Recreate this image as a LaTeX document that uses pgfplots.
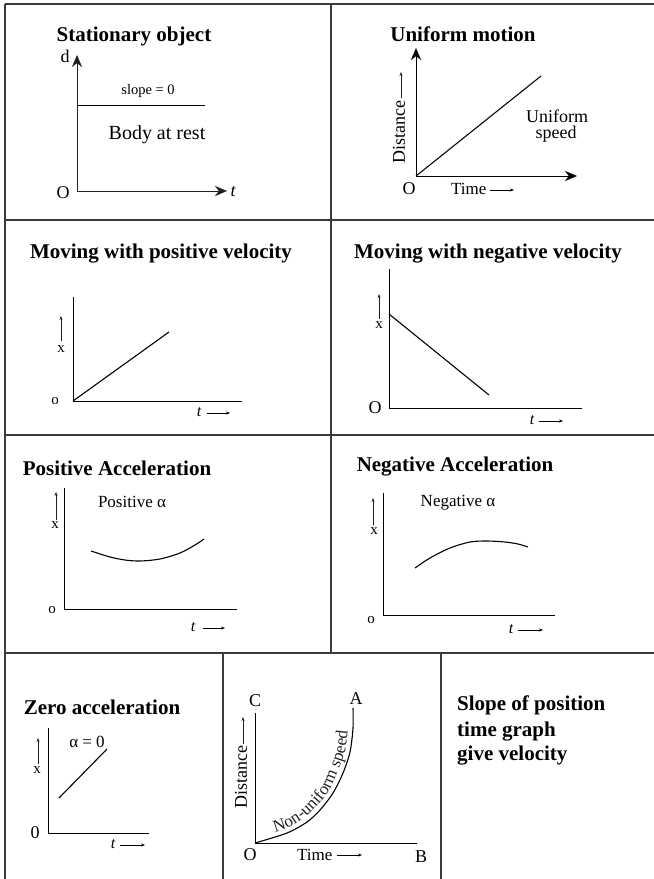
\documentclass[border=0pt]{standalone}
\usepackage{fontspec}
\setmainfont{Liberation Serif}[BoldFont={Liberation Serif Bold},ItalicFont={Liberation Serif Italic}]
\usepackage{pgfplots}
\pgfplotsset{compat=1.18}
\usetikzlibrary{arrows.meta,decorations.text}
\definecolor{ink}{HTML}{231F20}
\definecolor{rule}{HTML}{3A3A3A}
\newcommand{\ttl}[3]{\node[anchor=base,inner sep=0pt,font=\fontsize{21bp}{25bp}\selectfont\bfseries] at (axis cs:#1,#2) {#3};}
\newcommand{\lbl}[4]{\node[anchor=base,inner sep=0pt,font=\fontsize{#1}{#1}\selectfont] at (axis cs:#2,#3) {#4};}
\begin{document}
\begin{tikzpicture}
\begin{axis}[
  width=654bp, height=879bp, scale only axis,
  xmin=0, xmax=654, ymin=0, ymax=879, y dir=reverse,
  hide axis, clip=false,
  cycle list={{ink,solid,mark=none,line width=1.4bp}},
]
% ---- grid rules ----
\addplot[rule, line width=1.2bp] coordinates {(5,4) (654,4)};
\addplot[rule, line width=1.2bp] coordinates {(5,4) (5,879)};
\addplot[rule, line width=1.2bp] coordinates {(5,220) (654,220)};
\addplot[rule, line width=1.2bp] coordinates {(5,435) (654,435)};
\addplot[rule, line width=1.2bp] coordinates {(5,653) (654,653)};
\addplot[rule, line width=1.2bp] coordinates {(331,4) (331,653)};
\addplot[rule, line width=1.2bp] coordinates {(223,653) (223,879)};
\addplot[rule, line width=1.2bp] coordinates {(441,653) (441,879)};

% ---- Panel 1: stationary object ----
\ttl{134}{42}{Stationary object}
\addplot+[{Stealth[length=12bp,width=10bp]}-{Stealth[length=12bp,width=10bp]}] coordinates {(77,55) (77,191) (227,191)};
\addplot coordinates {(77,105) (205,105)};
\lbl{18bp}{65}{63}{d}
\lbl{18bp}{63}{199}{O}
\lbl{18bp}{233}{197}{\itshape t}
\lbl{14.5bp}{148}{95}{slope = 0}
\lbl{20bp}{157}{140}{Body at rest}

% ---- Panel 2: uniform motion ----
\ttl{463}{42}{Uniform motion}
\addplot+[{Stealth[length=12bp,width=10bp]}-{Stealth[length=12bp,width=10bp]}] coordinates {(416,48) (416,176) (577,176)};
\addplot+[line width=1.1bp] coordinates {(416,176) (541,76)};
\node[rotate=90,inner sep=0pt,font=\fontsize{18bp}{18bp}\selectfont] at (axis cs:399,132) {Distance};
\addplot+[line width=0.6bp,-{Stealth[length=4bp,width=3bp]}] coordinates {(401,98) (401,72)};
\lbl{18bp}{557}{123}{Uniform}
\lbl{18bp}{556}{139}{speed}
\lbl{18bp}{409}{195}{O}
\node[anchor=base west,inner sep=0pt,font=\fontsize{17bp}{17bp}\selectfont] at (axis cs:451,195) {Time};
\addplot+[line width=0.6bp,-{Stealth[length=4bp,width=3bp]}] coordinates {(490,190) (514,190)};

% ---- Panel 3: positive velocity ----
\ttl{161}{258}{Moving with positive velocity}
\addplot coordinates {(73,297) (73,401) (242,401)};
\addplot+[line width=1.1bp] coordinates {(73,401) (169,332)};
\lbl{15bp}{61}{352}{x}
\addplot+[line width=0.6bp,-{Stealth[length=4bp,width=3bp]}] coordinates {(61,341) (61,316)};
\lbl{15bp}{55}{404}{o}
\lbl{16bp}{199}{416}{\itshape t}
\addplot+[line width=0.6bp,-{Stealth[length=4bp,width=3bp]}] coordinates {(207,413) (230,413)};

% ---- Panel 4: negative velocity ----
\ttl{488}{258}{Moving with negative velocity}
\addplot coordinates {(389,269) (389,408) (582,408)};
\addplot+[line width=1.1bp] coordinates {(389,314) (489,395)};
\lbl{15bp}{379}{328}{x}
\addplot+[line width=0.6bp,-{Stealth[length=4bp,width=3bp]}] coordinates {(379,319) (379,294)};
\lbl{18bp}{375}{413}{O}
\lbl{16bp}{532}{424}{\itshape t}
\addplot+[line width=0.6bp,-{Stealth[length=4bp,width=3bp]}] coordinates {(539,421) (563,421)};

% ---- Panel 5: positive acceleration ----
\ttl{117}{475}{Positive Acceleration}
\addplot coordinates {(64,488) (64,609) (237,609)};
\addplot+[smooth,line width=1.1bp] coordinates {(91,551) (110,557) (125,560) (140,561) (160,559) (180,553) (195,545) (204,539)};
\lbl{17bp}{132}{507}{Positive α}
\lbl{15bp}{55}{528}{x}
\addplot+[line width=0.6bp,-{Stealth[length=4bp,width=3bp]}] coordinates {(56,520) (56,492)};
\lbl{15bp}{52}{613}{o}
\lbl{16bp}{193}{631}{\itshape t}
\addplot+[line width=0.6bp,-{Stealth[length=4bp,width=3bp]}] coordinates {(203,628) (225,628)};

% ---- Panel 6: negative acceleration ----
\ttl{455}{471}{Negative Acceleration}
\addplot coordinates {(383,493) (383,615) (555,615)};
\addplot+[smooth,line width=1.1bp] coordinates {(415,568) (430,558) (450,548) (470,542) (487,541) (505,542) (518,544) (528,547)};
\lbl{17bp}{458}{506}{Negative α}
\lbl{15bp}{374}{534}{x}
\addplot+[line width=0.6bp,-{Stealth[length=4bp,width=3bp]}] coordinates {(373,525) (373,498)};
\lbl{15bp}{371}{623}{o}
\lbl{16bp}{511}{633}{\itshape t}
\addplot+[line width=0.6bp,-{Stealth[length=4bp,width=3bp]}] coordinates {(518,630) (543,630)};

% ---- Panel 7: zero acceleration ----
\ttl{102}{714}{Zero acceleration}
\addplot coordinates {(48,728) (48,833) (149,833)};
\addplot+[line width=1.1bp] coordinates {(59,798) (107,749)};
\lbl{17bp}{87}{747}{α = 0}
\lbl{15bp}{37}{773}{x}
\addplot+[line width=0.6bp,-{Stealth[length=4bp,width=3bp]}] coordinates {(38,764) (38,738)};
\lbl{18bp}{35}{838}{0}
\lbl{16bp}{113}{848}{\itshape t}
\addplot+[line width=0.6bp,-{Stealth[length=4bp,width=3bp]}] coordinates {(120,845) (145,845)};

% ---- Panel 8: non-uniform speed ----
\addplot coordinates {(255,713) (255,843) (417,843)};
\addplot+[smooth,line width=1.1bp] coordinates {(255,843) (287,833) (307,822) (320,810) (333,793) (343,773) (350,752) (353,728) (353,708)};
\lbl{18bp}{255}{706}{C}
\lbl{18bp}{356}{704}{A}
\lbl{18bp}{250}{860}{O}
\lbl{18bp}{421}{862}{B}
\node[rotate=90,inner sep=0pt,font=\fontsize{18bp}{18bp}\selectfont] at (axis cs:241,777) {Distance};
\addplot+[line width=0.6bp,-{Stealth[length=4bp,width=3bp]}] coordinates {(243,744) (243,717)};
\node[anchor=base west,inner sep=0pt,font=\fontsize{17bp}{17bp}\selectfont] at (axis cs:297,860) {Time};
\addplot+[line width=0.6bp,-{Stealth[length=4bp,width=3bp]}] coordinates {(337,855) (362,855)};
\path[decorate,decoration={text along path,text align=center,
  text={|\fontsize{17bp}{17bp}\selectfont\color{ink}|Non-uniform speed}}]
  plot[smooth] coordinates {(253,838) (285,829) (304,818) (316,807) (329,791) (338,771) (345,751) (348,728) (348,708)};

% ---- Panel 9: text ----
\node[anchor=base west,inner sep=0pt,font=\fontsize{21bp}{25bp}\selectfont\bfseries] at (axis cs:457,710) {Slope of position};
\node[anchor=base west,inner sep=0pt,font=\fontsize{21bp}{25bp}\selectfont\bfseries] at (axis cs:457,736) {time graph};
\node[anchor=base west,inner sep=0pt,font=\fontsize{21bp}{25bp}\selectfont\bfseries] at (axis cs:457,760) {give velocity};
\end{axis}
\pgfresetboundingbox
\useasboundingbox (current axis.south west) rectangle (current axis.north east);
\end{tikzpicture}
\end{document}
